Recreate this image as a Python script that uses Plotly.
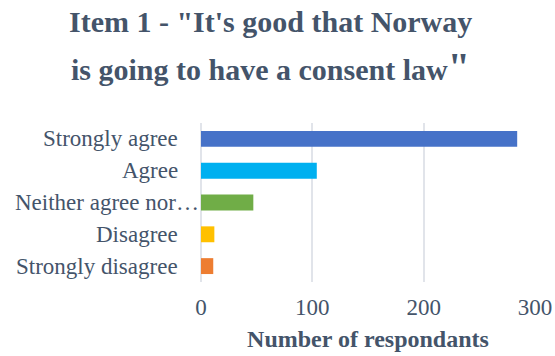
import plotly.graph_objects as go

# Survey responses for item 1
categories = ["Strongly agree", "Agree", "Neither agree nor…", "Disagree", "Strongly disagree"]
respondents = [284, 104, 47, 12, 11]
bar_colors = ["#4672C8", "#00B0F0", "#70AD47", "#FFC000", "#ED7D31"]
x_ticks = [0, 100, 200, 300]

title_line1 = "Item 1 - \"It's good that Norway"
title_line2 = "is going to have a consent law<span style=\"font-size:40px\">\"</span>"

FONT = "Liberation Serif"
TEXT = "#44546A"
GRID = "#E1E4EA"

fig = go.Figure(
    go.Bar(
        x=respondents,
        y=categories,
        orientation="h",
        marker=dict(color=bar_colors, line=dict(width=0)),
        hoverinfo="x+y",
    )
)

# category labels, right-aligned left of the plot; the truncated one runs up to the axis
for cat in categories:
    fig.add_annotation(
        x=0, y=cat, xref="paper", yref="y",
        text=cat, showarrow=False,
        xanchor="right", yanchor="middle",
        xshift=0 if cat.endswith("…") else -21,
        font=dict(family=FONT, size=23, color=TEXT),
    )

# two-line title
for txt, shift in [(title_line1, 102), (title_line2, 57)]:
    fig.add_annotation(
        x=0.207, y=1, xref="paper", yref="paper",
        text=f"<b>{txt}</b>", showarrow=False,
        xanchor="center", yanchor="middle", yshift=shift,
        font=dict(family=FONT, size=30, color=TEXT),
    )

fig.update_layout(
    width=555, height=356,
    margin=dict(l=201, r=20, t=123, b=74),
    paper_bgcolor="white", plot_bgcolor="white",
    bargap=0.5,
    showlegend=False,
    font=dict(family=FONT, color=TEXT),
)
fig.update_xaxes(
    range=[0, 300], tickvals=x_ticks, ticks="",
    showgrid=True, gridcolor=GRID, gridwidth=2,
    zeroline=True, zerolinecolor=GRID, zerolinewidth=2,
    showline=False,
    tickfont=dict(family=FONT, size=23, color=TEXT),
    ticklabelstandoff=9,
    title=dict(text="<b>Number of respondants</b>", standoff=11,
               font=dict(family=FONT, size=24, color=TEXT)),
    automargin=False,
)
fig.update_yaxes(
    autorange="reversed", showticklabels=False, ticks="",
    showgrid=False, zeroline=False, showline=False, automargin=False,
)

fig.write_html("out.html")
